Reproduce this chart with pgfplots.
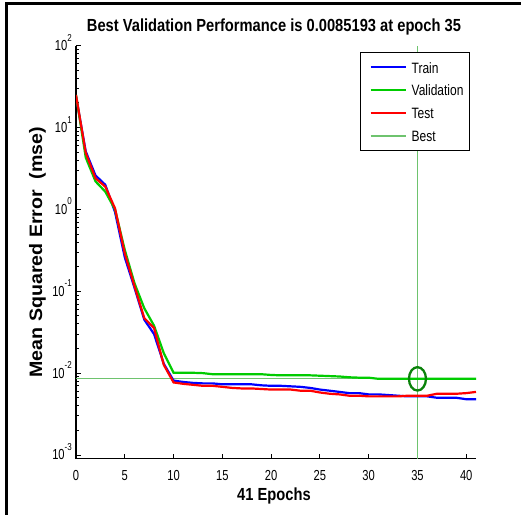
\documentclass[border=0pt]{standalone}
\usepackage{pgfplots}
\pgfplotsset{compat=1.18}
\usepackage{fontspec}
\setmainfont{Liberation Sans}
\newfontfamily\tickfont[FakeStretch=0.77]{Liberation Sans}
\newfontfamily\legfont[FakeStretch=0.8]{Liberation Sans}
\newfontfamily\supfont[FakeStretch=0.8]{Liberation Sans}
\newfontfamily\titlefont[FakeStretch=0.84]{Liberation Sans}
\newfontfamily\ylabfont[FakeStretch=1.09]{Liberation Sans}
\definecolor{trainc}{rgb}{0,0,1}
\definecolor{valc}{rgb}{0,0.8,0}
\definecolor{testc}{rgb}{1,0,0}
\definecolor{bestc}{RGB}{110,195,110}
\definecolor{circc}{RGB}{10,130,10}
\newcommand{\tl}[1]{10\raisebox{9.5bp}{\supfont\fontsize{10bp}{10bp}\selectfont #1}}
\newcommand{\lstrut}{\rule[-1bp]{0pt}{14.5bp}}
\pgfplotstableread{
e train val test
0 24 25 25
1 5.1 4.3 4.9
2 2.6 2.2 2.4
3 2.0 1.65 1.9
4 0.93 1.0 1.03
5 0.26 0.32 0.29
6 0.11 0.125 0.115
7 0.045 0.062 0.047
8 0.030 0.038 0.0355
9 0.013 0.0175 0.0126
10 0.0081 0.0101 0.0077
11 0.0078 0.0101 0.0074
12 0.0076 0.0101 0.0072
13 0.0075 0.0100 0.0070
14 0.0075 0.0097 0.0070
15 0.0073 0.0097 0.0068
16 0.0073 0.0097 0.0066
17 0.0073 0.0097 0.0065
18 0.0073 0.0097 0.0065
19 0.0071 0.0097 0.0064
20 0.0070 0.0095 0.0063
21 0.0070 0.0094 0.0063
22 0.0069 0.0094 0.0063
23 0.0068 0.0094 0.0061
24 0.0066 0.0094 0.0061
25 0.0063 0.0093 0.0058
26 0.0061 0.0092 0.0056
27 0.0059 0.0091 0.0055
28 0.0057 0.0089 0.0053
29 0.0057 0.0088 0.0053
30 0.0055 0.0088 0.0052
31 0.0055 0.0085193 0.0052
32 0.0054 0.0085193 0.0052
33 0.0053 0.0085193 0.0052
34 0.0052 0.0085193 0.0053
35 0.0052 0.0085193 0.0053
36 0.0052 0.0085193 0.0053
37 0.0050 0.0085193 0.0056
38 0.0050 0.0085193 0.0056
39 0.0050 0.0085193 0.0056
40 0.0048 0.0085193 0.0057
41 0.0048 0.0085193 0.0059
}\perf
\begin{document}
\begin{tikzpicture}
\path[use as bounding box] (0,0) rectangle (521bp,515bp);
\fill[white] (0,0) rectangle (521bp,515bp);
\draw[black, line width=3bp] (6.5bp,0) -- (6.5bp,512.5bp);
\draw[black, line width=2.5bp] (5bp,511.3bp) -- (521bp,511.3bp);
\begin{axis}[
  at={(76bp,56.5bp)}, anchor=south west, scale only axis,
  width=400bp, height=412.8bp,
  ymode=log, xmin=0, xmax=41, ymin=9.06e-4, ymax=100,
  axis x line*=bottom, axis y line*=left,
  axis line style={line width=1.2bp, black},
  tick align=inside, tick style={black, line width=0.9bp},
  major tick length=5bp, minor tick length=3bp,
  xtick={0,5,...,40}, xticklabels={0,5,10,15,20,25,30,35,40},
  ytick={1e-3,1e-2,1e-1,1,10,100},
  yticklabels={\tl{-3},\tl{-2},\tl{-1},\tl{0},\tl{1},\tl{2}},
  minor ytick={2e-3,3e-3,4e-3,5e-3,6e-3,7e-3,8e-3,9e-3,
    2e-2,3e-2,4e-2,5e-2,6e-2,7e-2,8e-2,9e-2,
    2e-1,3e-1,4e-1,5e-1,6e-1,7e-1,8e-1,9e-1,
    2,3,4,5,6,7,8,9,20,30,40,50,60,70,80,90},
  xticklabel style={font=\tickfont\fontsize{14.5bp}{16bp}\selectfont, anchor=base, inner sep=0pt, yshift=-21.5bp},
  yticklabel style={font=\tickfont\fontsize{14.5bp}{16bp}\selectfont, anchor=base east, inner sep=0pt, xshift=-4bp, yshift=-5bp},
  title={Best Validation Performance is 0.0085193 at epoch 35},
  title style={font=\titlefont\bfseries\fontsize{17.5bp}{20bp}\selectfont, at={(axis description cs:0.495,1.0198)}, anchor=base, inner sep=0pt, yshift=0pt},
  xlabel={41 Epochs},
  xlabel style={font=\titlefont\bfseries\fontsize{17.5bp}{20bp}\selectfont, at={(axis description cs:0.495,-0.1017)}, anchor=base, inner sep=0pt},
  ylabel={Mean Squared Error\ \ (mse)},
  ylabel style={font=\ylabfont\bfseries\fontsize{18bp}{20bp}\selectfont, at={(axis description cs:-0.09625,0.5)}, anchor=center, inner sep=0pt},
  legend style={at={(axis description cs:1,1)}, anchor=north east, xshift=-6bp, yshift=-6.3bp,
    draw=black, line width=1bp, inner xsep=6bp, inner ysep=7bp, row sep=8bp, column sep=5bp,
    nodes={inner sep=0pt},
    font=\legfont\fontsize{15bp}{16bp}\selectfont},
  legend cell align=left,
  legend image code/.code={\path (0bp,0bp) (38bp,0bp); \draw[#1] (3bp,0bp) -- (38bp,0bp);},
]
\addplot[bestc, line width=1.2bp, forget plot] coordinates {(0,0.0085193) (41,0.0085193)};
\addplot[bestc, line width=1.2bp, forget plot] coordinates {(35,9.06e-4) (35,100)};
\addplot[trainc, line width=2.2bp] table[x=e, y=train] {\perf};
\addlegendentry{\lstrut Train}
\addplot[valc, line width=2.2bp] table[x=e, y=val] {\perf};
\addlegendentry{\lstrut Validation}
\addplot[testc, line width=2.2bp] table[x=e, y=test] {\perf};
\addlegendentry{\lstrut Test}
\addplot[circc, line width=2.3bp, only marks, mark=o, mark size=11.7bp, mark options={xscale=0.727}, forget plot] coordinates {(35,0.0085193)};
\addlegendimage{bestc, line width=1.2bp}
\addlegendentry{\lstrut Best}
\end{axis}
\end{tikzpicture}
\end{document}
